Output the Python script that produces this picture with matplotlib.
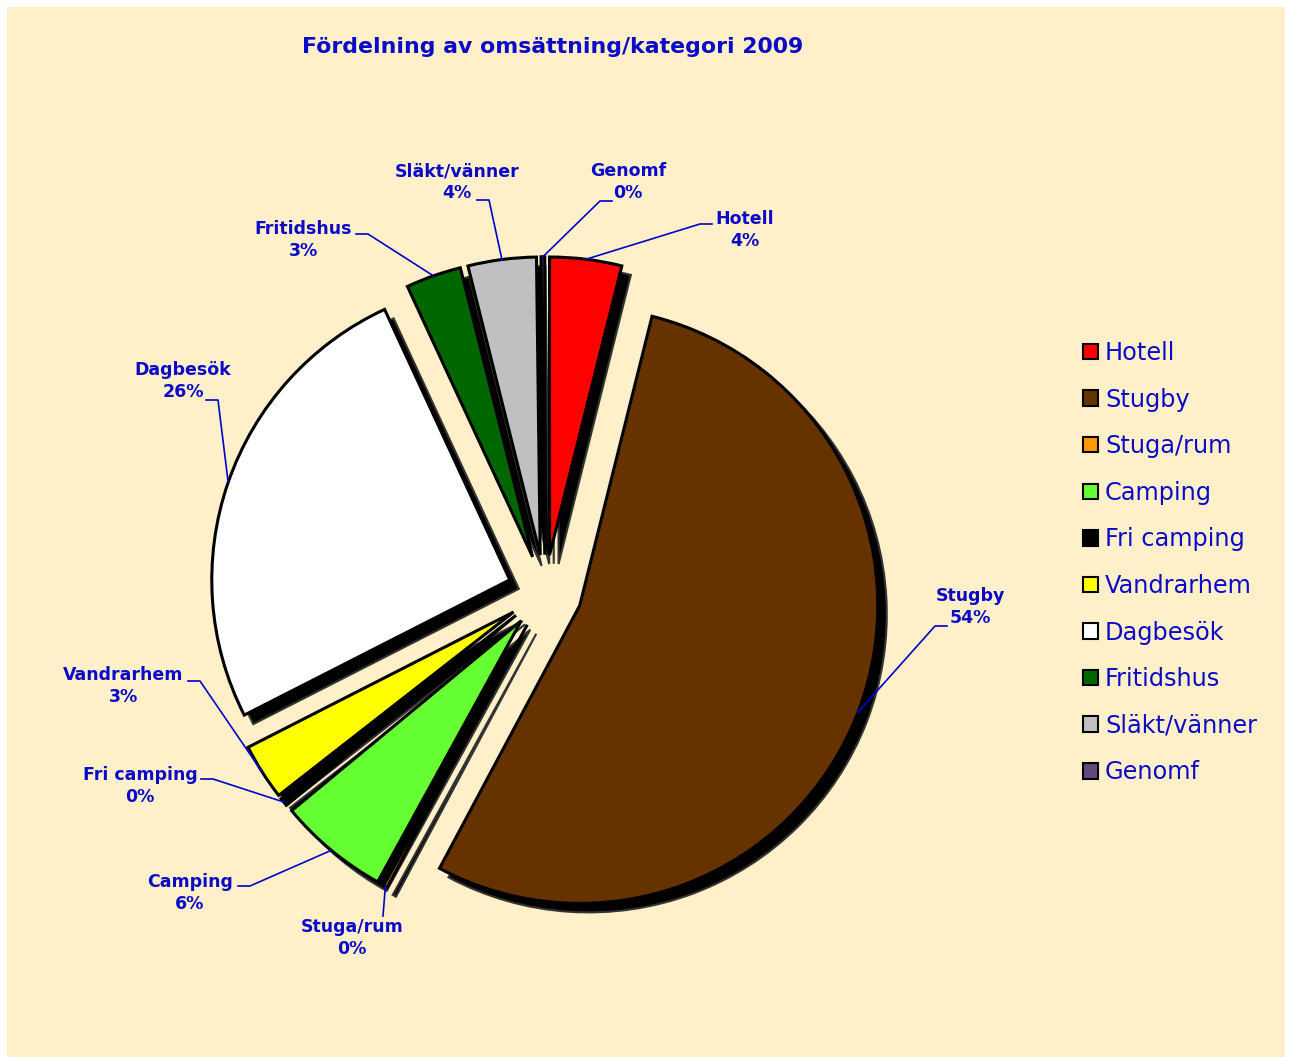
import matplotlib
matplotlib.use("Agg")
import matplotlib.pyplot as plt
import numpy as np
from matplotlib.patches import Rectangle, Wedge

# ---- data ----
categories = ["Hotell", "Stugby", "Stuga/rum", "Camping", "Fri camping",
              "Vandrarhem", "Dagbesök", "Fritidshus", "Släkt/vänner", "Genomf"]
shares = [3.9, 53.9, 0.2, 6.0, 0.45, 3.05, 25.6, 3.0, 3.7, 0.2]
colors = ["#FF0000", "#663300", "#FF9900", "#66FF33", "#000000",
          "#FFFF00", "#FFFFFF", "#006600", "#C0C0C0", "#604A7B"]
title = "Fördelning av omsättning/kategori 2009"

# ---- layout (pixels in the 1290x1057 canvas) ----
W, H = 1290, 1057
CX, CY, RPX = 545, 592, 298          # pie centre and radius
EXPLODE = 0.125
SHADOW = (9, 9)
# text centre, elbow point, stub direction
label_layout = [
    ((745, 230), (700, 224), 1),
    ((970, 607), (935, 626), 1),
    ((352, 938), (383, 916), 0),
    ((190, 893), (250, 886), -1),
    ((140, 786), (213, 779), -1),
    ((123, 686), (200, 681), -1),
    ((183, 381), (218, 400), -1),
    ((303, 240), (368, 234), -1),
    ((457, 182), (489, 200), -1),
    ((628, 182), (600, 201), 1),
]
TXT = "#0A0AC8"
LINE = "#0000CC"


def px(x, y):
    return (x - CX) / RPX, (CY - y) / RPX


fig = plt.figure(figsize=(W / 100, H / 100), dpi=100, facecolor="white")
ax = fig.add_axes([0, 0, 1, 1])

wedges, _ = ax.pie(shares, colors=colors, startangle=90, counterclock=False,
                   explode=[EXPLODE] * len(shares), radius=1,
                   wedgeprops=dict(edgecolor="black", linewidth=2.2, zorder=2))
ax.set_aspect("auto")
ax.set_xlim(-CX / RPX, (W - CX) / RPX)
ax.set_ylim((CY - H) / RPX, CY / RPX)
ax.axis("off")

ax.add_patch(Rectangle((7 / W, 0), (W - 12) / W, (H - 7) / H, transform=fig.transFigure,
                       facecolor="#FFF0C9", edgecolor="none", zorder=0, clip_on=False))

# drop shadows
sdx, sdy = SHADOW[0] / RPX, -SHADOW[1] / RPX
for w in wedges:
    cx, cy = w.center
    ax.add_patch(Wedge((cx + sdx, cy + sdy), w.r, w.theta1, w.theta2,
                       facecolor="black", edgecolor="#333333", linewidth=1.5, zorder=1))

total = sum(shares)
for w, name, v, (tpos, elbow, sd) in zip(wedges, categories, shares, label_layout):
    ang = np.deg2rad((w.theta1 + w.theta2) / 2)
    ax_, ay_ = (1 + EXPLODE) * np.cos(ang), (1 + EXPLODE) * np.sin(ang)
    ex, ey = px(*elbow)
    sx, sy = px(elbow[0] + 12 * sd, elbow[1])
    ax.plot([ax_, ex, sx], [ay_, ey, sy], color=LINE, lw=1.2, zorder=3)
    tx, ty = px(*tpos)
    ax.text(tx, ty, f"{name}\n{v / total * 100:.0f}%", ha="center", va="center",
            color=TXT, fontsize=12.5, fontweight="bold", linespacing=1.25, zorder=4)

fig.text(553 / W, 1 - 47 / H, title, ha="center", va="center", color=TXT,
         fontsize=15.8, fontweight="bold")

leg = fig.legend(wedges, categories, loc="upper left",
                 bbox_to_anchor=(1083 / W, 1 - 341 / H), frameon=False,
                 fontsize=17.3, handlelength=0.62, handleheight=0.62,
                 handletextpad=0.3, labelspacing=0.94, borderpad=0, borderaxespad=0)
for t in leg.get_texts():
    t.set_color(TXT)
for h in leg.legend_handles:
    h.set_linewidth(1.5)

fig.savefig("out.png", dpi=100, facecolor="white")
